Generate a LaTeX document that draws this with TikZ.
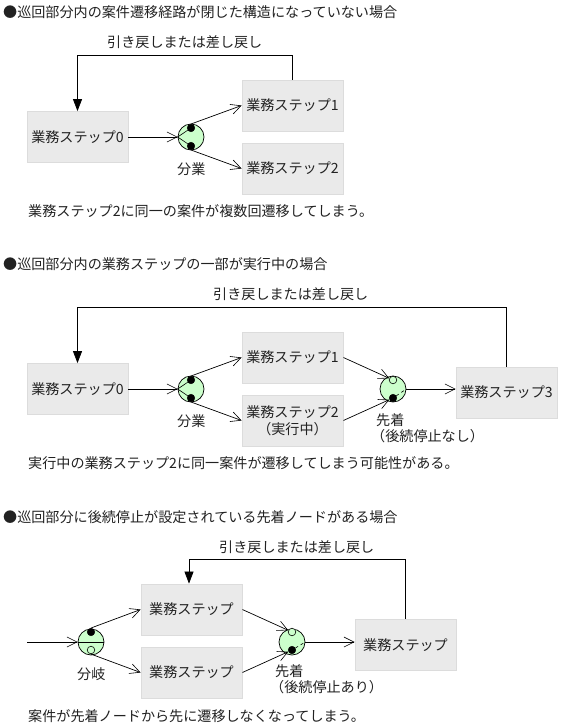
\documentclass[tikz,border=0pt]{standalone}
\usepackage{fontspec}
\setmainfont{Noto Sans CJK JP}
\usetikzlibrary{arrows.meta}
\lineskiplimit=-20pt
\definecolor{boxfill}{HTML}{EAEAEA}
\definecolor{boxline}{HTML}{DCDCDC}
\definecolor{gate}{HTML}{CCFFCC}
\definecolor{ink}{HTML}{222222}
\tikzset{
 x=1pt,y=-1pt,
 stepbox/.style={draw=boxline,fill=boxfill,line width=.8pt,minimum width=101pt,minimum height=51pt,inner sep=0pt,text=ink,font=\fontsize{14.1}{16.5}\selectfont,align=center},
 gatenode/.style={circle,draw=black,fill=gate,line width=.7pt,minimum size=26pt,inner sep=0pt},
 blackdot/.style={circle,draw=black,fill=black,minimum size=7.6pt,inner sep=0pt},
 opendot/.style={circle,draw=black,fill=gate,line width=.6pt,minimum size=7.6pt,inner sep=0pt},
 txt/.style={anchor=west,inner sep=0pt,text=ink,font=\fontsize{14.1}{16}\selectfont,align=left},
 flow/.style={draw=black,line width=.7pt,-{Straight Barb[length=10pt,width=10pt,line width=.6pt]}},
 back/.style={draw=black,line width=.7pt,-{Triangle[length=12pt,width=9pt]}},
 inner/.style={draw=black,line width=.6pt},
}
\begin{document}
\begin{tikzpicture}
\useasboundingbox (0,0) rectangle (560,728);
\fill[white] (0,0) rectangle (560,728);
% section 1
\node[txt] (h1) at (3,12) {●巡回部分内の案件遷移経路が閉じた構造になっていない場合};
\node[txt] (l1) at (107,42) {引き戻しまたは差し戻し};
\node[stepbox] (a0) at (77.5,137) {業務ステップ0};
\node[stepbox] (a1) at (292.5,105.5) {業務ステップ1};
\node[stepbox] (a2) at (292.5,168.5) {業務ステップ2};
\node[gatenode] (ag) at (191,137) {};
\node[blackdot] (ad1) at (191,128) {};
\node[blackdot] (ad2) at (191,146) {};
\node[txt] (as) at (177,169) {分業};
\node[txt] (an) at (28,211) {業務ステップ2に同一の案件が複数回遷移してしまう。};
\coordinate (at) at (77.5,55);
\coordinate (au) at (292.5,55);
\draw[flow] (a0.east) -- (ag.west);
\draw[flow] (ad1.north) -- (a1.west);
\draw[flow] (ad2.south) -- (a2.west);
\draw[inner] (ag.west) -- (ad1);
\draw[inner] (ag.west) -- (ad2);
\draw[back] (a1.north) -- (au) -- (at) -- (a0.north);
% section 2
\node[txt] (h2) at (3,264) {●巡回部分内の業務ステップの一部が実行中の場合};
\node[txt] (l2) at (213,294) {引き戻しまたは差し戻し};
\node[stepbox] (b0) at (77.5,389) {業務ステップ0};
\node[stepbox] (b1) at (292.5,357.5) {業務ステップ1};
\node[stepbox] (b2) at (292.5,420.5) {業務ステップ2\\（実行中）};
\node[stepbox] (b3) at (506.5,392.5) {業務ステップ3};
\node[gatenode] (bg) at (191,389) {};
\node[blackdot] (bd1) at (191,380) {};
\node[blackdot] (bd2) at (191,398) {};
\node[gatenode] (bh) at (393,389) {};
\node[opendot] (bo1) at (393,380) {};
\node[blackdot] (bo2) at (393,398) {};
\node[txt] (bs) at (177,421) {分業};
\node[txt,anchor=north west] (bt) at (376,413) {先着\\\hspace*{-5pt}（後続停止なし）};
\node[txt] (bn) at (28,463) {実行中の業務ステップ2に同一案件が遷移してしまう可能性がある。};
\coordinate (bu) at (506.5,307);
\coordinate (bv) at (77.5,307);
\draw[flow] (b0.east) -- (bg.west);
\draw[flow] (bd1.north) -- (b1.west);
\draw[flow] (bd2.south) -- (b2.west);
\draw[inner] (bg.west) -- (bd1);
\draw[inner] (bg.west) -- (bd2);
\draw[flow] (b1.east) -- (bo1);
\draw[flow] (b2.east) -- (bo2);
\draw[flow] (bh.east) -- (bh.east -| b3.west);
\draw[inner,dashed] (bo2) -- (bh.east);
\draw[back] (b3.north) -- (bu) -- (bv) -- (b0.north);
% section 3
\node[txt] (h3) at (3,517) {●巡回部分に後続停止が設定されている先着ノードがある場合};
\node[txt] (l3) at (219,547) {引き戻しまたは差し戻し};
\node[stepbox] (c1) at (191.5,609.5) {業務ステップ};
\node[stepbox] (c2) at (191.5,672.5) {業務ステップ};
\node[stepbox] (c3) at (405.5,645) {業務ステップ};
\node[gatenode] (cg) at (91,642) {};
\node[blackdot] (cd1) at (91,632) {};
\node[opendot] (cd2) at (91,650) {};
\node[gatenode] (ch) at (292,642) {};
\node[opendot] (co1) at (292,632) {};
\node[blackdot] (co2) at (292,650) {};
\coordinate (cin) at (27,642);
\coordinate (cu) at (405.5,559);
\coordinate (cv) at (189,559);
\node[txt] (cs) at (77,674) {分岐};
\node[txt,anchor=north west] (ct) at (275,664) {先着\\\hspace*{-5pt}（後続停止あり）};
\node[txt] (cn) at (28,716) {案件が先着ノードから先に遷移しなくなってしまう。};
\draw[flow] (cin) -- (cg.west);
\draw[inner] (cg.west) -- (cg.east);
\draw[flow] (cd1.north) -- (c1.west);
\draw[flow] (cd2.south) -- (c2.west);
\draw[flow] (c1.east) -- (co1);
\draw[flow] (c2.east) -- (co2);
\draw[flow] (ch.east) -- (ch.east -| c3.west);
\draw[inner,dashed] (co2) -- (ch.east);
\draw[back] (c3.north) -- (cu) -- (cv) -- (c1.north -| cv);
\end{tikzpicture}
\end{document}
